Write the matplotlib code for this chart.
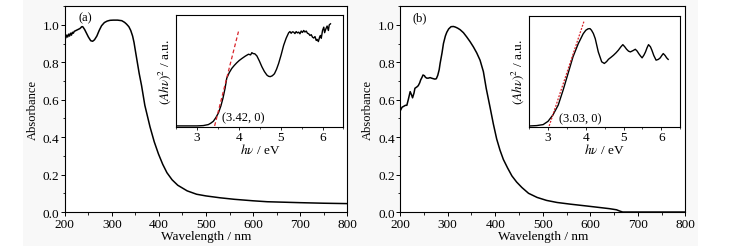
import matplotlib
matplotlib.use("Agg")
import matplotlib.pyplot as plt
from matplotlib.patches import Rectangle
from matplotlib.ticker import MultipleLocator, FormatStrFormatter

plt.rcParams['font.family'] = ['Liberation Serif', 'DejaVu Serif']
plt.rcParams['mathtext.fontset'] = 'stix'
plt.rcParams['font.size'] = 8

# ---- panel (a): absorbance spectrum
wl_a = [200, 202, 204, 206, 208, 210, 212, 214, 216, 218, 220, 224, 228, 232, 236, 238,
        242, 246, 250, 255, 259, 263, 268, 273, 278, 284, 290, 296, 303, 312, 321, 327,
        331, 336, 340, 344, 347, 350, 354, 358, 363, 370, 381, 390, 399, 408, 417, 428,
        440, 460, 480, 500, 530, 560, 600, 630, 700, 750, 800]
abs_a = [0.95, 0.93, 0.945, 0.935, 0.95, 0.94, 0.955, 0.945, 0.96, 0.955, 0.965, 0.97, 0.975,
         0.98, 0.99, 0.99, 0.975, 0.955, 0.935, 0.915, 0.912, 0.92, 0.94, 0.97, 0.995, 1.012,
         1.02, 1.024, 1.025, 1.025, 1.022, 1.013, 1.004, 0.99, 0.97, 0.94, 0.906, 0.86, 0.80,
         0.74, 0.676, 0.57, 0.455, 0.375, 0.31, 0.255, 0.21, 0.172, 0.143, 0.113, 0.095,
         0.086, 0.076, 0.068, 0.06, 0.055, 0.05, 0.047, 0.045]

# inset (a): Tauc plot
ev_a = [2.52, 2.8, 3.0, 3.15, 3.27, 3.33, 3.39, 3.45, 3.51, 3.57, 3.62, 3.67, 3.71, 3.77, 3.83,
        3.89, 3.95, 4.01, 4.07, 4.15, 4.23, 4.28, 4.31, 4.34, 4.38, 4.43, 4.49, 4.55, 4.61,
        4.67, 4.71, 4.75, 4.80, 4.85, 4.90, 4.95, 5.01, 5.07, 5.13, 5.19, 5.22, 5.25, 5.28,
        5.31, 5.34, 5.37, 5.40, 5.43, 5.46, 5.49, 5.52, 5.55, 5.58, 5.61, 5.64, 5.67, 5.70,
        5.73, 5.76, 5.79, 5.82, 5.85, 5.87, 5.90, 5.93, 5.95, 5.97, 6.00, 6.03, 6.05, 6.08,
        6.11, 6.14, 6.16, 6.19]
tauc_a = [0.0, 0.0, 0.0, 0.003, 0.012, 0.025, 0.042, 0.075, 0.116, 0.18, 0.25, 0.34, 0.43,
          0.48, 0.518, 0.545, 0.569, 0.59, 0.607, 0.628, 0.646, 0.64, 0.66, 0.652, 0.65,
          0.631, 0.585, 0.533, 0.49, 0.458, 0.447, 0.444, 0.452, 0.47, 0.51, 0.5625, 0.64,
          0.726, 0.79, 0.839, 0.85, 0.835, 0.848, 0.845, 0.832, 0.85, 0.838, 0.845, 0.83,
          0.855, 0.842, 0.86, 0.846, 0.855, 0.835, 0.83, 0.815, 0.822, 0.80, 0.792, 0.805,
          0.77, 0.78, 0.76, 0.80, 0.815, 0.79, 0.86, 0.89, 0.84, 0.875, 0.9, 0.86, 0.91, 0.92]
fit_a_x = [3.42, 3.99]
fit_a_y = [0.0, 0.85]

# ---- panel (b): absorbance spectrum
wl_b = [200, 204, 207, 211, 214, 217, 221, 224, 226, 229, 231, 235, 238, 241, 243, 246, 248,
        251, 253, 256, 259, 263, 266, 270, 273, 276, 279, 282, 284, 288, 291, 295, 298, 302,
        307, 312, 316, 321, 326, 333, 340, 347, 354, 361, 368, 375, 381, 389, 396, 403, 410,
        417, 426, 435, 445, 456, 470, 488, 508, 530, 558, 593, 620, 640, 655, 662, 668, 700,
        750, 800]
abs_b = [0.54, 0.56, 0.564, 0.57, 0.57, 0.60, 0.643, 0.625, 0.61, 0.635, 0.661, 0.668, 0.675,
         0.69, 0.705, 0.72, 0.732, 0.728, 0.72, 0.715, 0.715, 0.718, 0.715, 0.712, 0.71,
         0.712, 0.73, 0.76, 0.794, 0.85, 0.90, 0.94, 0.96, 0.978, 0.99, 0.991, 0.988, 0.982,
         0.974, 0.958, 0.935, 0.91, 0.882, 0.85, 0.811, 0.75, 0.66, 0.56, 0.47, 0.39, 0.33,
         0.281, 0.235, 0.193, 0.16, 0.131, 0.10, 0.078, 0.062, 0.051, 0.042, 0.032, 0.024,
         0.018, 0.012, 0.005, 0.0, 0.0, 0.0, 0.0]

# inset (b): Tauc plot
ev_b = [2.53, 2.70, 2.87, 3.0, 3.13, 3.27, 3.40, 3.53, 3.66, 3.80, 3.93, 4.0, 4.06, 4.11,
        4.15, 4.20, 4.25, 4.33, 4.42, 4.49, 4.55, 4.60, 4.67, 4.73, 4.80, 4.86, 4.93, 4.98,
        5.03, 5.08, 5.13, 5.18, 5.25, 5.31, 5.36, 5.40, 5.45, 5.49, 5.54, 5.58, 5.62, 5.66,
        5.71, 5.75, 5.80, 5.86, 5.92, 5.97, 6.01, 6.05, 6.10, 6.14, 6.18]
tauc_b = [0.0, 0.003, 0.012, 0.042, 0.10, 0.19, 0.327, 0.477, 0.628, 0.748, 0.838, 0.87,
          0.883, 0.885, 0.87, 0.84, 0.793, 0.673, 0.583, 0.568, 0.585, 0.606, 0.625, 0.642,
          0.665, 0.688, 0.72, 0.739, 0.72, 0.697, 0.68, 0.673, 0.685, 0.697, 0.68, 0.658,
          0.635, 0.619, 0.645, 0.673, 0.71, 0.739, 0.72, 0.688, 0.64, 0.598, 0.605, 0.619,
          0.64, 0.658, 0.64, 0.619, 0.605]
fit_b_x = [3.03, 3.95]
fit_b_y = [0.0, 0.95]

fig = plt.figure(figsize=(7.37, 2.53), dpi=100)
fig.patches.append(Rectangle((0.031, 0.024), 0.916, 0.976, transform=fig.transFigure,
                             facecolor='#f8f8f8', edgecolor='none', zorder=-10))


def style_main(ax):
    ax.set_xlim(200, 800)
    ax.set_ylim(0, 1.1)
    ax.xaxis.set_major_locator(MultipleLocator(100))
    ax.xaxis.set_minor_locator(MultipleLocator(50))
    ax.yaxis.set_major_locator(MultipleLocator(0.2))
    ax.yaxis.set_minor_locator(MultipleLocator(0.1))
    ax.yaxis.set_major_formatter(FormatStrFormatter('%.1f'))
    ax.tick_params(which='major', direction='out', length=3, width=0.7, labelsize=9.5, pad=1)
    ax.tick_params(which='minor', direction='out', length=1.8, width=0.6)
    ax.set_xlabel('Wavelength / nm', fontsize=9.5, labelpad=0.5)
    ax.set_ylabel('Absorbance', fontsize=9, labelpad=3)
    for s in ax.spines.values():
        s.set_linewidth(0.8)
    ax.set_facecolor('white')


def style_inset(ax):
    ax.set_xlim(2.5, 6.5)
    ax.set_ylim(-0.01, 1.0)
    ax.xaxis.set_major_locator(MultipleLocator(1))
    ax.xaxis.set_minor_locator(MultipleLocator(0.5))
    ax.set_yticks([])
    ax.tick_params(which='major', direction='out', length=2.5, width=0.6, labelsize=9.5, pad=0.5)
    ax.tick_params(which='minor', direction='out', length=1.5, width=0.5)
    ax.set_xlabel(r'$h\nu$ / eV', fontsize=9.5, labelpad=-1)
    ax.set_ylabel(r'$(Ah\nu)^2$ / a.u.', fontsize=9.5, labelpad=2)
    for s in ax.spines.values():
        s.set_linewidth(0.8)


ax1 = fig.add_axes([0.088, 0.158, 0.383, 0.814])
ax1.plot(wl_a, abs_a, color='black', lw=1.1)
style_main(ax1)
ax1.text(228, 1.04, '(a)', fontsize=9, ha='left', va='center')

ax2 = fig.add_axes([0.543, 0.158, 0.387, 0.814])
ax2.plot(wl_b, abs_b, color='black', lw=1.1)
style_main(ax2)
ax2.text(225, 1.04, '(b)', fontsize=9, ha='left', va='center')

in1 = fig.add_axes([0.239, 0.494, 0.227, 0.443])
in1.plot(ev_a, tauc_a, color='black', lw=1.0)
in1.plot(fit_a_x, fit_a_y, color='#d8232a', lw=0.9, ls=(0, (3, 2)))
in1.text(3.59, 0.08, '(3.42, 0)', fontsize=9, ha='left', va='center')
style_inset(in1)

in2 = fig.add_axes([0.718, 0.494, 0.205, 0.439])
in2.plot(ev_b, tauc_b, color='black', lw=1.0)
in2.plot(fit_b_x, fit_b_y, color='#d8232a', lw=0.9, ls=(0, (1.5, 1.2)))
in2.text(3.30, 0.07, '(3.03, 0)', fontsize=9, ha='left', va='center')
style_inset(in2)

fig.savefig('out.png', dpi=100, facecolor='white')
